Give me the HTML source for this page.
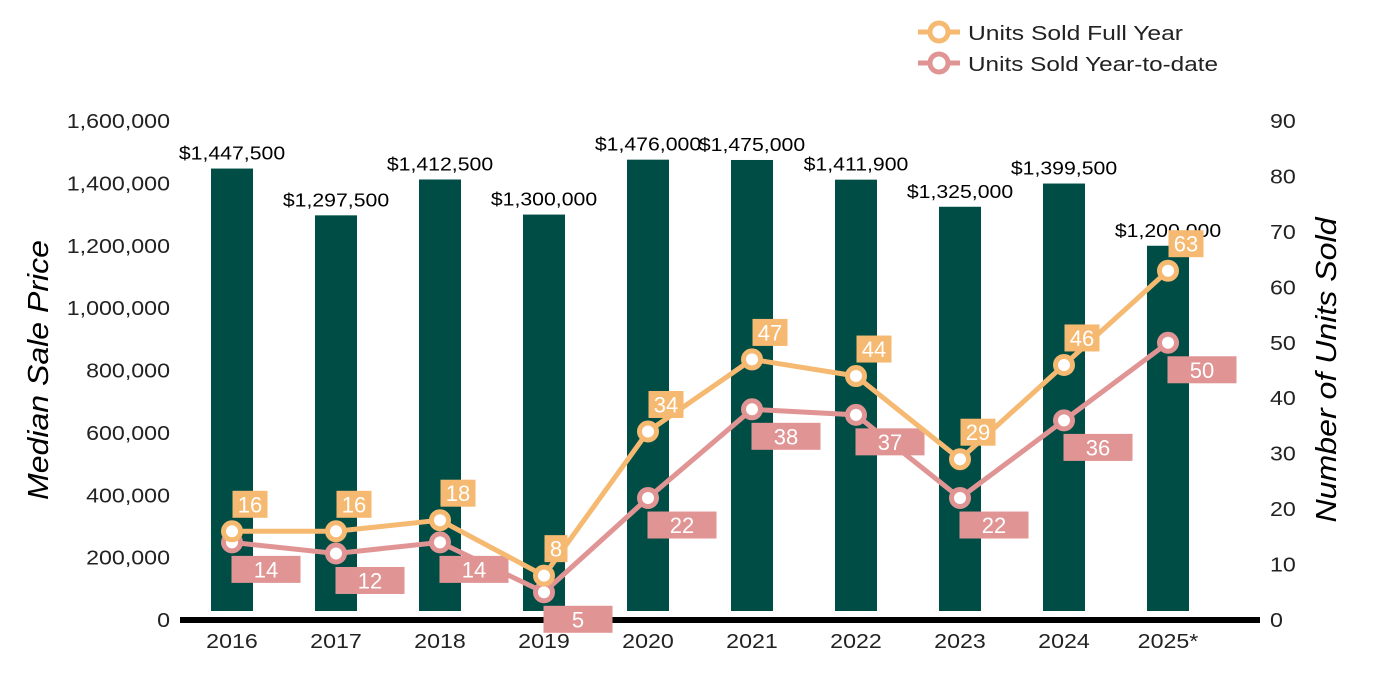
<!DOCTYPE html>
<html><head><meta charset="utf-8"><style>
body{margin:0;background:#fff;}
svg{display:block;font-family:"Liberation Sans",Arial,sans-serif;}
</style></head><body>
<svg id="chart" width="1400" height="700" viewBox="0 0 1400 700">
<g id="axes"></g><g id="bars"></g><g id="lines"></g>
<g>
<g>
<line x1="918" y1="32" x2="960" y2="32" stroke="#f5b971" stroke-width="5"/>
<circle cx="939" cy="32" r="9" fill="#fff" stroke="#f5b971" stroke-width="5"/>
<text x="968" y="40" font-size="20" fill="#222" textLength="215" lengthAdjust="spacingAndGlyphs">Units Sold Full Year</text></g>
<g>
<line x1="918" y1="63" x2="960" y2="63" stroke="#e09494" stroke-width="5"/>
<circle cx="939" cy="63" r="9" fill="#fff" stroke="#e09494" stroke-width="5"/>
<text x="968" y="71" font-size="20" fill="#222" textLength="250" lengthAdjust="spacingAndGlyphs">Units Sold Year-to-date</text></g>
</g>
<text transform="translate(48,370) rotate(-90)" text-anchor="middle" font-size="29" font-style="italic" fill="#000" textLength="260" lengthAdjust="spacingAndGlyphs">Median Sale Price</text>
<text transform="translate(1336,370) rotate(-90)" text-anchor="middle" font-size="29" font-style="italic" fill="#000" textLength="305" lengthAdjust="spacingAndGlyphs">Number of Units Sold</text>
</svg>
<script>
const categories=["2016","2017","2018","2019","2020","2021","2022","2023","2024","2025*"];
const prices=[1447500,1297500,1412500,1300000,1476000,1475000,1411900,1325000,1399500,1200000];
const priceLabels=["$1,447,500","$1,297,500","$1,412,500","$1,300,000","$1,476,000","$1,475,000","$1,411,900","$1,325,000","$1,399,500","$1,200,000"];
const fullYear=[16,16,18,8,34,47,44,29,46,63];
const ytd=[14,12,14,5,22,38,37,22,36,50];
const leftTicks=[0,200000,400000,600000,800000,1000000,1200000,1400000,1600000];
const rightTicks=[0,10,20,30,40,50,60,70,80,90];

const NS="http://www.w3.org/2000/svg";
const y0=620,yTop=121;
const yL=v=>y0-v/1600000*(y0-yTop);
const yR=v=>y0-v/90*(y0-yTop);
const xC=i=>232+i*104;
function mk(t,a,p){const e=document.createElementNS(NS,t);for(const k in a)e.setAttribute(k,a[k]);p.appendChild(e);return e;}
const axes=document.getElementById('axes'),bars=document.getElementById('bars'),lines=document.getElementById('lines');
function stretch(t,f){t.setAttribute('textLength',t.getComputedTextLength()*f);t.setAttribute('lengthAdjust','spacingAndGlyphs');}
leftTicks.forEach(v=>{const t=mk('text',{x:170,y:yL(v)+7,'text-anchor':'end','font-size':20,fill:'#222'},axes);t.textContent=v.toLocaleString('en-US');stretch(t,1.16);

});
rightTicks.forEach(v=>{const t=mk('text',{x:1270,y:yR(v)+7,'font-size':20,fill:'#222'},axes);t.textContent=v;stretch(t,1.16);

});
categories.forEach((c,i)=>{const t=mk('text',{x:xC(i),y:648,'text-anchor':'middle','font-size':20,fill:'#222'},axes);t.textContent=c;stretch(t,1.16);

});
prices.forEach((p,i)=>{const r=mk('rect',{x:xC(i)-21,y:yL(p),width:42,height:611-yL(p),fill:'#004d45'},bars);


const t=mk('text',{x:xC(i),y:yL(p)-9,'text-anchor':'middle','font-size':18,fill:'#000'},bars);t.textContent=priceLabels[i];stretch(t,1.18);

});
const base=mk('line',{x1:180,y1:620,x2:1260,y2:620,stroke:'#000','stroke-width':6},axes);


function series(vals,color,name,lbl){
 const pl=mk('polyline',{points:vals.map((v,i)=>xC(i)+','+yR(v)).join(' '),fill:'none',stroke:color,'stroke-width':5},lines);
 
 
 vals.forEach((v,i)=>{const c=mk('circle',{cx:xC(i),cy:yR(v),r:8.5,fill:'#fff',stroke:color,'stroke-width':5},lines);
 
 });
 vals.forEach((v,i)=>{let cx,cy,w,h=27;
  if(lbl==='above'){w=v<10?23:35;cx=xC(i)+(v<10?12:18);cy=yR(v)-27;}else{cx=xC(i)+34;cy=yR(v)+27;w=69;}
  const r=mk('rect',{x:cx-w/2,y:cy-h/2,width:w,height:h,fill:color},lines);
  
  
  const t=mk('text',{x:cx,y:cy+8,'text-anchor':'middle','font-size':22,fill:'#fff'},lines);t.textContent=v;
  
  });
}
series(ytd,'#e09494','ytd','below');
series(fullYear,'#f5b971','full-year','above');
</script>
</body></html>
